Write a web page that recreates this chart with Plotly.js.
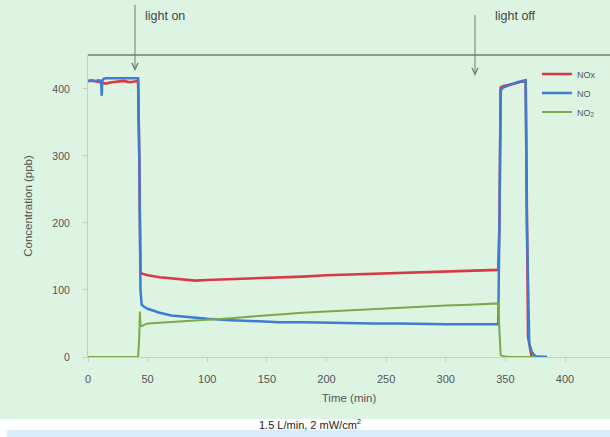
<!DOCTYPE html>
<html>
<head>
<meta charset="utf-8">
<script src="https://cdn.plot.ly/plotly-3.0.1.min.js"></script>
<style>
html,body{margin:0;padding:0;background:#fff;}
#chart{width:610px;height:437px;}
</style>
</head>
<body>
<div id="chart"></div>
<script>
// Data
const noxTime = [0, 5, 10, 15, 20, 25, 30, 35, 40, 42, 43, 44, 46, 50, 60, 70, 80, 90, 100, 120, 140, 160, 180, 200, 220, 240, 260, 280, 300, 320, 340, 344, 345, 346, 348, 352, 356, 360, 364, 367, 368, 369, 372];
const noxVals = [412, 412, 410, 408, 410, 411, 412, 410, 412, 412, 300, 126, 124, 122, 119, 117, 115, 114, 115, 116, 118, 119, 120, 122, 123, 124, 125, 126, 127, 128, 129, 130, 200, 402, 404, 406, 408, 410, 411, 412, 200, 30, 0];

const noTime = [0, 3, 6, 9, 11, 11.5, 12, 13, 15, 20, 25, 30, 35, 40, 42, 43, 44, 45, 47, 50, 60, 70, 80, 90, 100, 120, 140, 160, 180, 200, 220, 240, 260, 280, 300, 320, 340, 344, 345, 346, 348, 352, 356, 360, 364, 367, 368, 370, 372, 373, 375, 385];
const noVals = [412, 413, 412, 413, 412, 390, 412, 415, 416, 416, 416, 416, 416, 416, 416, 300, 100, 78, 75, 72, 66, 62, 60, 58, 57, 55, 53, 52, 52, 51, 51, 50, 50, 49, 49, 49, 49, 49, 200, 398, 402, 405, 408, 410, 412, 413, 200, 20, 8, 5, 1, 0];

const no2Time = [0, 5, 10, 20, 30, 40, 42, 43, 43.5, 44, 45, 47, 50, 60, 70, 80, 90, 100, 120, 140, 160, 180, 200, 220, 240, 260, 280, 300, 320, 340, 344, 345, 346, 348, 355, 365, 375];
const no2Vals = [0, 0, 1, 0, 0, 0, 0, 30, 68, 47, 46, 48, 50, 51, 52, 53, 54, 55, 58, 61, 64, 66, 68, 70, 72, 74, 75, 77, 78, 79, 80, 40, 3, 1, 0, 0, 0];

const xTicks = [0, 50, 100, 150, 200, 250, 300, 350, 400];
const yTicks = [0, 100, 200, 300, 400];
const seriesNames = ['NOx', 'NO', 'NO<sub>2</sub>'];
const lightOnTime = 39.4;
const lightOffTime = 324.5;

const font = 'Liberation Sans, Arial, sans-serif';
const axisGray = '#c3d2c7';
const arrowColor = '#6d7f72';

const traces = [
  {x: noxTime, y: noxVals, name: seriesNames[0], mode: 'lines', line: {color: '#d83a45', width: 2.6}},
  {x: noTime, y: noVals, name: seriesNames[1], mode: 'lines', line: {color: '#3d7ccf', width: 2.5}},
  {x: no2Time, y: no2Vals, name: seriesNames[2], mode: 'lines', line: {color: '#7aa84e', width: 2}}
];

function arrowShapes(t, yTop, yTip) {
  const hw = 2.6, hh = 0.022;
  return [
    {type: 'line', xref: 'x', yref: 'paper', x0: t, x1: t, y0: yTop, y1: yTip,
     line: {color: arrowColor, width: 1}},
    {type: 'path', xref: 'x', yref: 'paper',
     path: `M ${t - hw} ${yTip + hh} L ${t} ${yTip} L ${t + hw} ${yTip + hh}`,
     line: {color: arrowColor, width: 1.3}}
  ];
}

const layout = {
  width: 610, height: 437,
  margin: {l: 88, r: 0, t: 55, b: 80},
  paper_bgcolor: '#ffffff',
  plot_bgcolor: 'rgba(0,0,0,0)',
  font: {family: font, size: 10, color: '#555'},
  showlegend: true,
  legend: {x: 0.86, y: 0.985, xanchor: 'left', yanchor: 'top', bgcolor: 'rgba(0,0,0,0)',
           font: {size: 9, color: '#555'}, itemwidth: 30, tracegroupgap: 0},
  xaxis: {range: [0, 437.7], tickvals: xTicks, showgrid: false, zeroline: false,
          showline: true, linecolor: axisGray, linewidth: 1,
          ticks: 'outside', ticklen: 4, tickcolor: axisGray, ticklabelstandoff: 8,
          tickfont: {size: 11, color: '#555'},
          title: {text: 'Time (min)', font: {size: 11.5, color: '#555'}, standoff: 9}},
  yaxis: {range: [0, 450.7], tickvals: yTicks, showgrid: false, zeroline: false,
          showline: true, linecolor: axisGray, linewidth: 1,
          ticks: 'outside', ticklen: 4, tickcolor: axisGray, ticklabelstandoff: 11,
          tickfont: {size: 10.5, color: '#555'},
          title: {text: 'Concentration (ppb)', font: {size: 11.5, color: '#555'}, standoff: 17}},
  shapes: [
    {type: 'rect', xref: 'paper', yref: 'paper', x0: -0.2, x1: 1.05, y0: -0.205, y1: 1.2,
     fillcolor: '#ddf4e3', line: {width: 0}, layer: 'below'},
    {type: 'rect', xref: 'paper', yref: 'paper', x0: -0.155, x1: 1.05, y0: -0.242, y1: -0.27,
     fillcolor: '#d7edfb', line: {width: 0}, layer: 'below'},
    {type: 'line', xref: 'paper', yref: 'paper', x0: 0, x1: 1, y0: 1, y1: 1,
     line: {color: arrowColor, width: 1.5}},
    ...arrowShapes(lightOnTime, 1.166, 0.952),
    ...arrowShapes(lightOffTime, 1.132, 0.936)
  ],
  annotations: [
    {x: 0.105, y: 1.128, xref: 'paper', yref: 'paper', text: 'light on', showarrow: false,
     xanchor: 'left', yanchor: 'middle', font: {size: 12.5, color: '#444'}},
    {x: 0.776, y: 1.128, xref: 'paper', yref: 'paper', text: 'light off', showarrow: false,
     xanchor: 'left', yanchor: 'middle', font: {size: 12.5, color: '#444'}},
    {x: 0.425, y: -0.222, xref: 'paper', yref: 'paper', text: '1.5 L/min, 2 mW/cm<sup>2</sup>',
     showarrow: false, yanchor: 'middle', font: {size: 11, color: '#222'}}
  ]
};

Plotly.newPlot('chart', traces, layout, {displayModeBar: false, staticPlot: true});
</script>
</body>
</html>
